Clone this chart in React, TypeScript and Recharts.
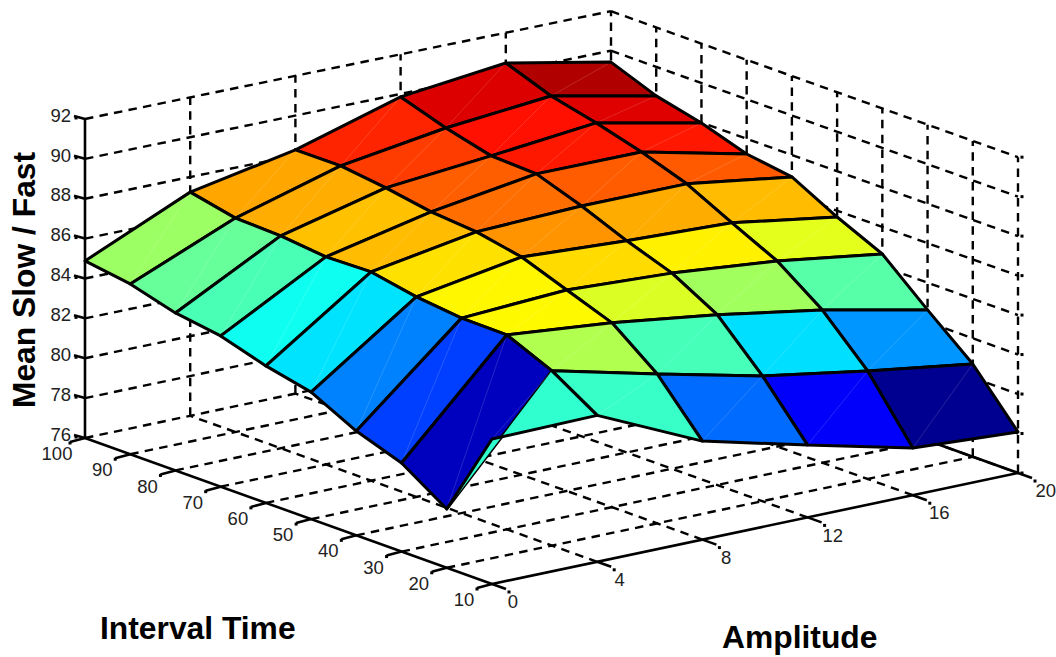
import React from "react";
import { ScatterChart, Scatter, XAxis, YAxis } from "recharts";

const WIDTH = 1056;
const HEIGHT = 657;

const amplitudes = [0, 4, 8, 12, 16, 20];
const intervals = [10, 20, 30, 40, 50, 60, 70, 80, 90, 100];
const zTicks = [76, 78, 80, 82, 84, 86, 88, 90, 92];

const meanAt10 = [83.27, 83.36, 80.96, 79.65, 78.39, 78.08];
const meanAt20 = [78.95, 84.78, 83.52, 82.32, 81.46, 80.7];
const meanAt30 = [80.44, 85.77, 85.28, 84.59, 83.72, 82.62];
const meanAt40 = [81.23, 85.8, 86.12, 85.87, 85.38, 84.63];
const meanAt50 = [82.37, 86.05, 86.96, 86.68, 86.49, 85.68];
const meanAt60 = [82.87, 86.49, 87.41, 87.62, 87.64, 86.89];
const meanAt70 = [83.56, 86.43, 87.6, 88.42, 88.43, 87.23];
const meanAt80 = [83.9, 86.67, 87.99, 88.51, 89.08, 87.98];
const meanAt90 = [84.54, 86.75, 88.28, 89.1, 89.62, 88.53];
const meanAt100 = [84.88, 87.24, 88.27, 89.85, 90.47, 89.42];
const surface = [meanAt10, meanAt20, meanAt30, meanAt40, meanAt50, meanAt60, meanAt70, meanAt80, meanAt90, meanAt100];

const COLOR_MIN = 78.2;
const COLOR_MAX = 90.2;

const clamp01 = (v: number) => Math.max(0, Math.min(1, v));
function jet(z: number) {
  const t = clamp01((z - COLOR_MIN) / (COLOR_MAX - COLOR_MIN));
  const r = clamp01(Math.min(4 * t - 1.5, -4 * t + 4.5));
  const g = clamp01(Math.min(4 * t - 0.5, -4 * t + 3.5));
  const b = clamp01(Math.min(4 * t + 0.5, -4 * t + 2.5));
  return `rgb(${Math.round(r * 255)},${Math.round(g * 255)},${Math.round(b * 255)})`;
}

type Pt = { x: number; y: number };

// Axonometric view of the (amplitude, interval, value) box.
function project(a: number, n: number, z: number): Pt {
  const u = a / 20;
  const v = (n - 10) / 90;
  return {
    x: 492 + 526 * u - 407 * v,
    y: 584 - 111 * u - 146 * v - (z - 76) * (19.94 - 0.2 * u),
  };
}

type Seg = { x: number; y: number; from: Pt; to: Pt };
const seg = (from: Pt, to: Pt): Seg => ({ x: (from.x + to.x) / 2, y: (from.y + to.y) / 2, from, to });

const aMin = amplitudes[0];
const aMax = amplitudes[amplitudes.length - 1];
const nMin = intervals[0];
const nMax = intervals[intervals.length - 1];
const zMin = zTicks[0];
const zMax = zTicks[zTicks.length - 1];

const dashedSegs: Seg[] = [];
zTicks.forEach((z) => {
  dashedSegs.push(seg(project(aMin, nMax, z), project(aMax, nMax, z)));
  dashedSegs.push(seg(project(aMax, nMax, z), project(aMax, nMin, z)));
});
amplitudes.slice(1).forEach((a) => dashedSegs.push(seg(project(a, nMax, zMin), project(a, nMax, zMax))));
intervals.slice(0, -1).forEach((n) => dashedSegs.push(seg(project(aMax, n, zMin), project(aMax, n, zMax))));
amplitudes.slice(1, -1).forEach((a) => dashedSegs.push(seg(project(a, nMin, zMin), project(a, nMax, zMin))));
intervals.slice(1, -1).forEach((n) => dashedSegs.push(seg(project(aMin, n, zMin), project(aMax, n, zMin))));

const solidSegs: Seg[] = [];
const dots: Pt[] = [];
const offset = (p: Pt, dx: number, dy: number): Pt => ({ x: p.x + dx, y: p.y + dy });
solidSegs.push(seg(project(aMin, nMin, zMin), project(aMax, nMin, zMin)));
solidSegs.push(seg(project(aMin, nMin, zMin), project(aMin, nMax, zMin)));
solidSegs.push(seg(project(aMin, nMax, zMin), project(aMin, nMax, zMax)));
solidSegs.push(seg(project(aMax, nMin, zMin), project(aMax, nMax, zMin)));
zTicks.forEach((z) => {
  const p = project(aMin, nMax, z);
  solidSegs.push(seg(p, offset(p, -11, -3)));
  dots.push(offset(p, -9, -1));
  dots.push(offset(project(aMax, nMin, z), 4, 0));
});
amplitudes.forEach((a) => {
  const p = project(a, nMin, zMin);
  solidSegs.push(seg(p, offset(p, 14, 5)));
  dots.push(offset(p, 17, 8));
});
intervals.forEach((n) => {
  const p = project(aMin, n, zMin);
  solidSegs.push(seg(p, offset(p, -15, 4)));
  dots.push(offset(p, -15, 5));
});

type Cell = { x: number; y: number; a: Pt; b: Pt; c: Pt; d: Pt; fill: string; folded: boolean };
const cells: Cell[] = [];
for (let j = intervals.length - 2; j >= 0; j--) {
  for (let i = amplitudes.length - 2; i >= 0; i--) {
    const a = project(amplitudes[i], intervals[j], surface[j][i]);
    const b = project(amplitudes[i + 1], intervals[j], surface[j][i + 1]);
    const c = project(amplitudes[i + 1], intervals[j + 1], surface[j + 1][i + 1]);
    const d = project(amplitudes[i], intervals[j + 1], surface[j + 1][i]);
    cells.push({
      x: (a.x + b.x + c.x + d.x) / 4,
      y: (a.y + b.y + c.y + d.y) / 4,
      a,
      b,
      c,
      d,
      fill: jet(surface[j][i]),
      folded: i === 0 && j === 0,
    });
  }
}

type Label = { x: number; y: number; text: string; size: number; bold?: boolean; anchor?: string; rotate?: number };
const TICK_SIZE = 18.5;
const tickLabels: Label[] = [
  ...zTicks.map((z) => {
    const p = project(aMin, nMax, z);
    return { x: p.x - 14, y: p.y - 4, text: String(z), size: TICK_SIZE, anchor: "end" };
  }),
  ...intervals.map((n) => {
    const p = project(aMin, n, zMin);
    return { x: p.x - 28, y: p.y + 15.5, text: String(n), size: TICK_SIZE, anchor: "middle" };
  }),
  ...amplitudes.map((a) => {
    const p = project(a, nMin, zMin);
    return { x: p.x + 21 + a * 0.34, y: p.y + 17.5, text: String(a), size: TICK_SIZE, anchor: "middle" };
  }),
];
const titleLabels: Label[] = [
  { x: 100, y: 628, text: "Interval Time", size: 31.8, bold: true, anchor: "start" },
  { x: 722, y: 637, text: "Amplitude", size: 31.8, bold: true, anchor: "start" },
  { x: 24, y: 280, text: "Mean Slow / Fast", size: 31.8, bold: true, anchor: "middle", rotate: -90 },
];

const FONT = '"Liberation Sans", Arial, sans-serif';

function lineShape(stroke: string, width: number, dash?: string) {
  return (props: any) => {
    const { cx, cy, payload } = props;
    const s = payload as Seg;
    const ox = cx - s.x;
    const oy = cy - s.y;
    return (
      <line
        x1={s.from.x + ox}
        y1={s.from.y + oy}
        x2={s.to.x + ox}
        y2={s.to.y + oy}
        stroke={stroke}
        strokeWidth={width}
        strokeDasharray={dash}
      />
    );
  };
}

const dotShape = (props: any) => <rect x={props.cx - 1.5} y={props.cy - 1.5} width={3} height={3} fill="#000" />;

const cellShape = (props: any) => {
  const { cx, cy, payload } = props;
  const k = payload as Cell;
  const ox = cx - k.x;
  const oy = cy - k.y;
  const f = (p: Pt) => `${(p.x + ox).toFixed(2)} ${(p.y + oy).toFixed(2)}`;
  const fillPath = `M${f(k.a)}L${f(k.b)}L${f(k.c)}ZM${f(k.a)}L${f(k.c)}L${f(k.d)}Z`;
  const edgePath = k.folded
    ? `M${f(k.d)}L${f(k.a)}L${f(k.b)}L${f(k.c)}`
    : `M${f(k.a)}L${f(k.b)}L${f(k.c)}L${f(k.d)}Z`;
  return (
    <g>
      <path d={fillPath} fill={k.fill} stroke="none" />
      <path d={`M${f(k.a)}L${f(k.c)}`} stroke="#fff" strokeOpacity={0.3} strokeWidth={0.5} fill="none" />
      <path d={edgePath} stroke="#000" strokeWidth={3} strokeLinejoin="round" strokeLinecap="round" fill="none" />
    </g>
  );
};

const labelShape = (props: any) => {
  const { cx, cy, payload } = props;
  const l = payload as Label;
  return (
    <text
      x={cx}
      y={cy}
      dy="0.36em"
      textAnchor={l.anchor as any}
      fontFamily={FONT}
      fontSize={l.size}
      fontWeight={l.bold ? 700 : 400}
      fill={l.bold ? "#000" : "#222"}
      transform={l.rotate ? `rotate(${l.rotate} ${cx} ${cy})` : undefined}
    >
      {l.text}
    </text>
  );
};

export default function App() {
  return (
    <div style={{ position: "absolute", left: 0, top: 0, width: WIDTH, height: HEIGHT, background: "#fff" }}>
      <ScatterChart width={WIDTH} height={HEIGHT} margin={{ top: 0, right: 0, bottom: 0, left: 0 }}>
        <XAxis type="number" dataKey="x" domain={[0, WIDTH]} hide />
        <YAxis type="number" dataKey="y" domain={[0, HEIGHT]} reversed hide />
        <Scatter data={dashedSegs} shape={lineShape("#000", 2.4, "8.5 6.3")} isAnimationActive={false} />
        <Scatter data={solidSegs} shape={lineShape("#000", 2.6)} isAnimationActive={false} />
        <Scatter data={dots} shape={dotShape} isAnimationActive={false} />
        <Scatter data={cells} shape={cellShape} isAnimationActive={false} />
        <Scatter data={tickLabels} shape={labelShape} isAnimationActive={false} />
        <Scatter data={titleLabels} shape={labelShape} isAnimationActive={false} />
      </ScatterChart>
    </div>
  );
}
